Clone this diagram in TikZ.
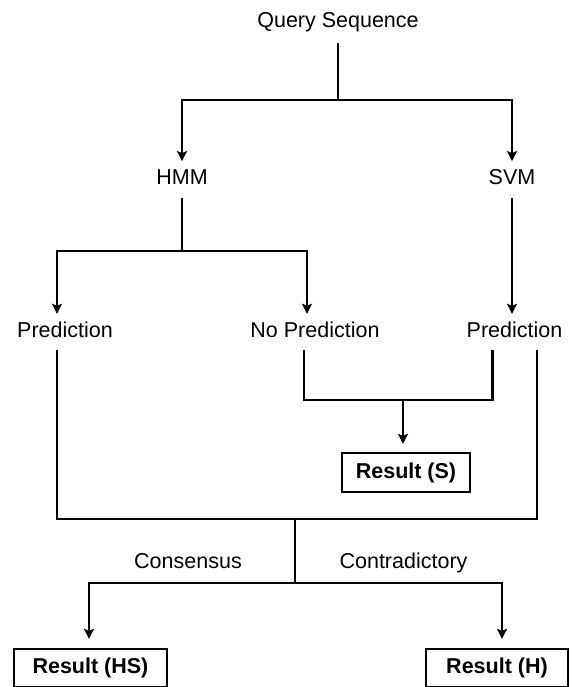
\documentclass[tikz,border=0pt]{standalone}
\usepackage{fontspec}
\setmainfont{Liberation Sans}
\usetikzlibrary{arrows.meta}
\begin{document}
\begin{tikzpicture}[x=1pt,y=-1pt,
  lbl/.style={inner xsep=0pt, inner ysep=8pt, text height=15.5pt, text depth=4.5pt, font=\fontsize{21.5}{26}\selectfont},
  resbox/.style={draw, line width=2.3pt, inner sep=0pt, font=\fontsize{21.5}{26}\selectfont\bfseries},
  ln/.style={line width=2.6pt},
  arr/.style={ln, -{Stealth[length=10pt,width=10pt,inset=2pt]}}]
\useasboundingbox (0,0) rectangle (571,687);
% text nodes
\node[lbl] (query) at (338,22) {Query Sequence};
\node[lbl] (hmm) at (182,179.3) {HMM};
\node[lbl] (svm) at (512,179.3) {SVM};
\node[lbl] (p1) at (65,332) {Prediction};
\node[lbl] (p2) at (315,332) {No Prediction};
\node[lbl] (p3) at (514.5,332) {Prediction};
\node[lbl] (cons) at (188,563) {Consensus};
\node[lbl] (contr) at (403.5,563) {Contradictory};
% result boxes
\node[resbox, minimum width=128pt, minimum height=39pt] (rs) at (406,472.5) {Result (S)};
\node[resbox, minimum width=153pt, minimum height=38pt] (rhs) at (90.5,668) {Result (HS)};
\node[resbox, minimum width=142pt, minimum height=38pt] (rh) at (497,668) {Result (H)};
% junctions
\coordinate (jq) at (338,100);
\coordinate (jh) at (182,251);
\coordinate (js) at (403,400);
\coordinate (jb) at (295,519);
\coordinate (jc) at (295,583);
% connectors
\draw[ln, shorten <=3pt] (query.south) -- (jq);
\draw[arr] (jq) -| (hmm.north);
\draw[arr] (jq) -| (svm.north);
\draw[ln] (hmm.south) -- (jh);
\draw[arr] (jh) -| ([xshift=-8pt]p1.north);
\draw[arr] (jh) -| ([xshift=-8pt]p2.north);
\draw[arr] (svm.south) -- (svm.south |- p3.north);
\draw[ln] ([xshift=-11pt]p2.south) |- (js) -| ([xshift=-22pt]p3.south);
\draw[arr, shorten >=8pt] (js) -- (js |- rs.north);
\draw[ln] ([xshift=-8pt]p1.south) |- (jb) -| ([xshift=22.5pt]p3.south);
\draw[ln] (jb) -- (jc);
\draw[arr, shorten >=9pt] (jc) -| ([xshift=-1.5pt]rhs.north);
\draw[arr, shorten >=9pt] (jc) -| ([xshift=5pt]rh.north);
\end{tikzpicture}
\end{document}
